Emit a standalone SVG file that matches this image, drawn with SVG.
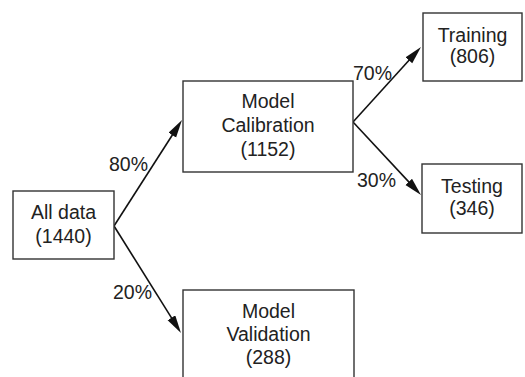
<svg xmlns="http://www.w3.org/2000/svg" width="525" height="377" viewBox="0 0 525 377">
<style>
.box{fill:#fff;stroke:#333;stroke-width:1.4}
.t{font-family:"Liberation Sans",Arial,sans-serif;font-size:19.5px;fill:#222;text-anchor:middle}
.p{font-family:"Liberation Sans",Arial,sans-serif;font-size:19.5px;fill:#222}
.c{stroke:#111;stroke-width:1.6;fill:none;marker-end:url(#ah)}
</style>
<defs>
<marker id="ah" markerUnits="userSpaceOnUse" markerWidth="20" markerHeight="10" refX="12" refY="4.5" orient="auto">
<path d="M0,0 L18,4.5 L0,9 Z" fill="#111"/>
</marker>
</defs>
<rect width="525" height="377" fill="#fff"/>
<g id="connectors">
<line class="c" x1="114" y1="226" x2="178.76" y2="125.05"/>
<line class="c" x1="114" y1="226" x2="177.81" y2="327.91"/>
<line class="c" x1="353" y1="122" x2="416.97" y2="51.45"/>
<line class="c" x1="353" y1="122" x2="416.91" y2="190.61"/>
<text class="p" x="109" y="171">80%</text>
<text class="p" x="113" y="299">20%</text>
<text class="p" x="353" y="80">70%</text>
<text class="p" x="357" y="187">30%</text>
</g>
<g id="alldata">
<rect class="box" x="13" y="191" width="101" height="68"/>
<text class="t" x="63.5" y="219">All data</text>
<text class="t" x="63.5" y="243">(1440)</text>
</g>
<g id="calibration">
<rect class="box" x="183" y="81" width="170" height="91"/>
<text class="t" x="268" y="108">Model</text>
<text class="t" x="268" y="132">Calibration</text>
<text class="t" x="268" y="156">(1152)</text>
</g>
<g id="validation">
<rect class="box" x="183" y="290" width="171" height="100"/>
<text class="t" x="268.5" y="318">Model</text>
<text class="t" x="268.5" y="341">Validation</text>
<text class="t" x="268.5" y="364">(288)</text>
</g>
<g id="training">
<rect class="box" x="423" y="13" width="99" height="68"/>
<text class="t" x="472.5" y="42">Training</text>
<text class="t" x="472.5" y="63">(806)</text>
</g>
<g id="testing">
<rect class="box" x="422" y="164" width="100" height="69"/>
<text class="t" x="472" y="193">Testing</text>
<text class="t" x="472" y="215">(346)</text>
</g>
</svg>
